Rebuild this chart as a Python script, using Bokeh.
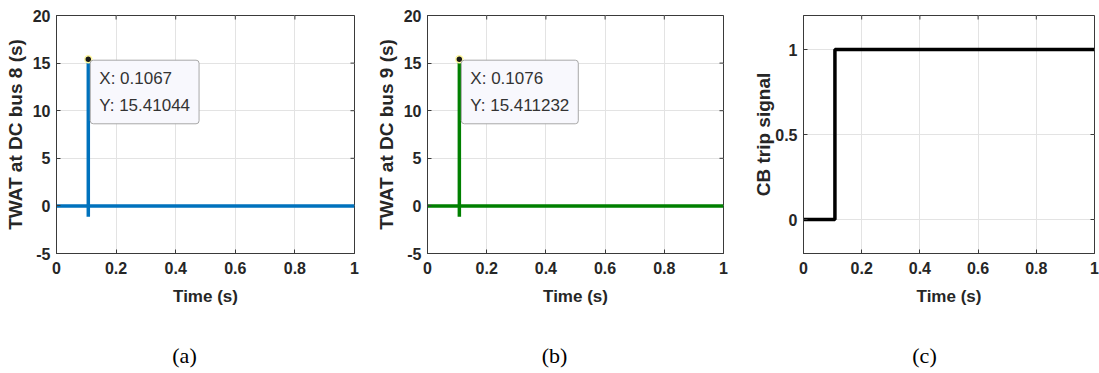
import math
from bokeh.plotting import figure
from bokeh.layouts import row, column
from bokeh.models import Label, FixedTicker, Range1d
from bokeh.core.properties import value
from bokeh.embed import file_html
from bokeh.resources import INLINE

# ---- data ----
t_a = [0.0, 0.1067, 0.1067, 0.1067, 0.1067, 1.0]
twat_a = [0.0, 0.0, 15.41044, -1.15, 0.0, 0.0]
tip_a = (0.1067, 15.41044)

t_b = [0.0, 0.1076, 0.1076, 0.1076, 0.1076, 1.0]
twat_b = [0.0, 0.0, 15.411232, -1.15, 0.0, 0.0]
tip_b = (0.1076, 15.411232)

t_c = [0.0, 0.108, 0.108, 1.0]
trip_c = [0.0, 0.0, 1.0, 1.0]

x_ticks = [0, 0.2, 0.4, 0.6, 0.8, 1]
y_ticks_ab = [-5, 0, 5, 10, 15, 20]
y_ticks_c = [0, 0.5, 1]
captions = ["(a)", "(b)", "(c)"]

SANS = "Liberation Sans"
TXT = "#262626"
FRAME = "#3a3a3a"
PLOT_H = 325          # height of the chart row
CAP_H = 373 - PLOT_H  # height of the caption strip
FIG_W = [370, 370, 359]


def make_fig(width, left, right, top, yr, yticks, ylabel, ylabel_standoff=4):
    p = figure(width=width, height=PLOT_H, output_backend="svg", toolbar_location=None,
               x_range=Range1d(0, 1), y_range=Range1d(*yr),
               min_border_left=left, min_border_right=right, min_border_top=top,
               min_border_bottom=PLOT_H - 253)
    p.background_fill_color = "white"
    p.border_fill_color = "white"
    p.outline_line_color = FRAME
    p.outline_line_width = 1
    for ax, ticks in ((p.xaxis[0], x_ticks), (p.yaxis[0], yticks)):
        ax.ticker = FixedTicker(ticks=ticks)
        ax.major_label_overrides = {0: "0", 1: "1", -5: "-5"}
        ax.major_label_text_font = SANS
        ax.major_label_text_font_style = "bold"
        ax.major_label_text_font_size = "16px"
        ax.major_label_text_color = TXT
        ax.axis_label_text_font = SANS
        ax.axis_label_text_font_style = "bold"
        ax.axis_label_text_color = TXT
        ax.major_tick_in = 4
        ax.major_tick_out = 0
        ax.minor_tick_line_color = None
        ax.axis_line_color = FRAME
        ax.major_tick_line_color = FRAME
    p.xaxis.axis_label = "Time (s)"
    p.xaxis.axis_label_text_font_size = "17px"
    p.xaxis.axis_label_standoff = 10
    p.xaxis.major_label_standoff = 8
    p.yaxis.axis_label = ylabel
    p.yaxis.axis_label_text_font_size = "19px"
    p.yaxis.axis_label_standoff = ylabel_standoff
    p.yaxis.major_label_standoff = 6
    # mirrored inward ticks on top/right edges
    p.ray(x=[1] * len(yticks), y=yticks, length=4, length_units="screen",
          angle=math.pi, line_color=FRAME, line_width=1)
    p.ray(x=x_ticks, y=[yr[1]] * len(x_ticks), length=4, length_units="screen",
          angle=-math.pi / 2, line_color=FRAME, line_width=1)
    p.xgrid.grid_line_color = "#e3e3e3"
    p.ygrid.grid_line_color = "#e3e3e3"
    p.xgrid.ticker = FixedTicker(ticks=x_ticks)
    p.ygrid.ticker = FixedTicker(ticks=yticks)
    return p


def add_tip(p, tip):
    x, y = tip
    p.add_layout(Label(x=x, y=y, x_offset=2, y_offset=-1, anchor="top_left",
                       text="X: %s\nY: %s" % (("%.4f" % x), repr(y)),
                       text_font=SANS, text_font_size="17px", text_color="#333333",
                       background_fill_color="#f8f8fd", border_line_color="#a8a8a8",
                       border_line_width=1, padding=9, border_radius=3,
                       text_line_height=1.4))
    p.scatter([x], [y], size=7, fill_color="#1a1a1a", line_color="#fff8a0", line_width=1.5)


pa = make_fig(FIG_W[0], 56, 16, 15, (-5, 20), y_ticks_ab, "TWAT at DC bus 8 (s)")
pa.line(t_a, twat_a, line_color="#0072BD", line_width=3.5)
add_tip(pa, tip_a)

pb = make_fig(FIG_W[1], 57, 17, 14, (-5, 20), y_ticks_ab, "TWAT at DC bus 9 (s)")
pb.line(t_b, twat_b, line_color="#008000", line_width=3.5)
add_tip(pb, tip_b)

pc = make_fig(FIG_W[2], 63, 5, 12, (-0.2, 1.2), y_ticks_c, "CB trip signal", ylabel_standoff=-2)
pc.line(t_c, trip_c, line_color="black", line_width=3.5)

# caption strip: one text per sub-figure, centred in its sub-figure's column
total_w = sum(FIG_W)
cap = figure(width=total_w, height=CAP_H, output_backend="svg", toolbar_location=None,
             x_range=Range1d(0, total_w), y_range=Range1d(0, CAP_H),
             min_border=0, x_axis_type=None, y_axis_type=None)
cap.outline_line_color = None
cap.grid.visible = False
cap.border_fill_color = "white"
cap.background_fill_color = "white"
lefts = [sum(FIG_W[:i]) for i in range(len(FIG_W))]
cap_x = [l + 184 for l in lefts]
cap.text(x=cap_x, y=[CAP_H - 30] * 3, text=captions, text_align="center",
         text_baseline="middle", text_font=value("Liberation Serif"),
         text_font_size="22px", text_color="black")

layout = column(row(pa, pb, pc), cap)
open("out.html", "w").write(file_html(layout, INLINE))
